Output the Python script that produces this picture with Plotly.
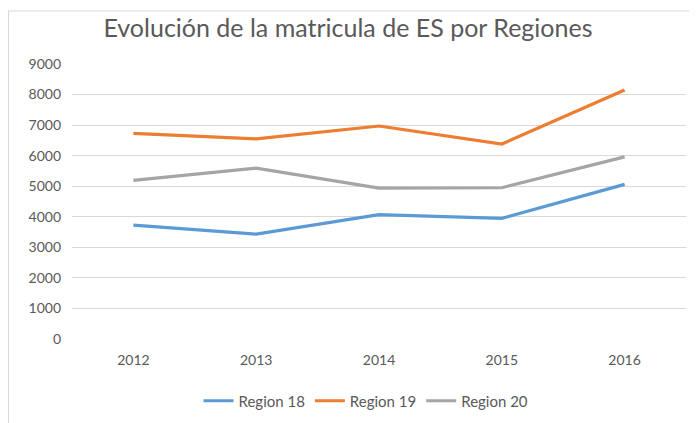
import plotly.graph_objects as go

years = ["2012", "2013", "2014", "2015", "2016"]
region18 = [3730, 3430, 4070, 3950, 5060]
region19 = [6730, 6550, 6970, 6380, 8150]
region20 = [5190, 5590, 4940, 4950, 5960]
y_ticks = [0, 1000, 2000, 3000, 4000, 5000, 6000, 7000, 8000, 9000]

font_family = "Lato, 'Open Sans', sans-serif"
text_color = "#595959"

# page body has an 8px default margin: compensate so the plot lands where intended
OFF = 8
W, H = 697, 423
ml, mr, mt, mb = 72 - OFF, 11 + OFF, 64 - OFF, 84 + OFF
pw, ph = W - ml - mr, H - mt - mb

fig = go.Figure()
for name, vals, color in [
    ("Region 18", region18, "#5B9BD5"),
    ("Region 19", region19, "#ED7D31"),
    ("Region 20", region20, "#A5A5A5"),
]:
    fig.add_trace(go.Scatter(x=years, y=vals, name=name, mode="lines",
                             line=dict(color=color, width=3.2)))

border_y = 1 + (mt - (11 - OFF)) / ph
border_x = -(ml) / pw

fig.update_layout(
    width=W, height=H,
    margin=dict(l=ml, r=mr, t=mt, b=mb),
    paper_bgcolor="white", plot_bgcolor="white",
    font=dict(family=font_family, color=text_color, size=14),
    title=dict(text="Evolución de la matricula de ES por Regiones",
               x=(348 - OFF) / W, xanchor="center", y=1 - (28 - OFF) / H, yanchor="middle",
               font=dict(size=25, color=text_color, family=font_family)),
    showlegend=True,
    legend=dict(orientation="h", x=(366 - OFF - ml) / pw, xanchor="center",
                y=-(401 - OFF - (mt + ph)) / ph, yanchor="middle",
                font=dict(size=15, color=text_color), itemwidth=30, tracegroupgap=0),
    xaxis=dict(type="category", range=[-0.5, 4.5], showgrid=False, zeroline=False,
               showline=False, ticks="", ticklabelstandoff=11,
               tickfont=dict(size=14, color=text_color)),
    yaxis=dict(range=[0, 9000], tickvals=y_ticks, showgrid=True, gridcolor="#D9D9D9",
               gridwidth=1, zeroline=False, showline=False, ticks="",
               ticklabelstandoff=10, tickfont=dict(size=14, color=text_color)),
    shapes=[
        dict(type="line", xref="paper", yref="paper", x0=border_x, x1=1 + mr / pw,
             y0=border_y, y1=border_y, line=dict(color="#D9D9D9", width=1)),
        dict(type="line", xref="paper", yref="paper", x0=border_x + 0.5 / pw,
             x1=border_x + 0.5 / pw, y0=border_y, y1=-mb / ph,
             line=dict(color="#D9D9D9", width=1)),
    ],
)

fig.write_html("out.html")
